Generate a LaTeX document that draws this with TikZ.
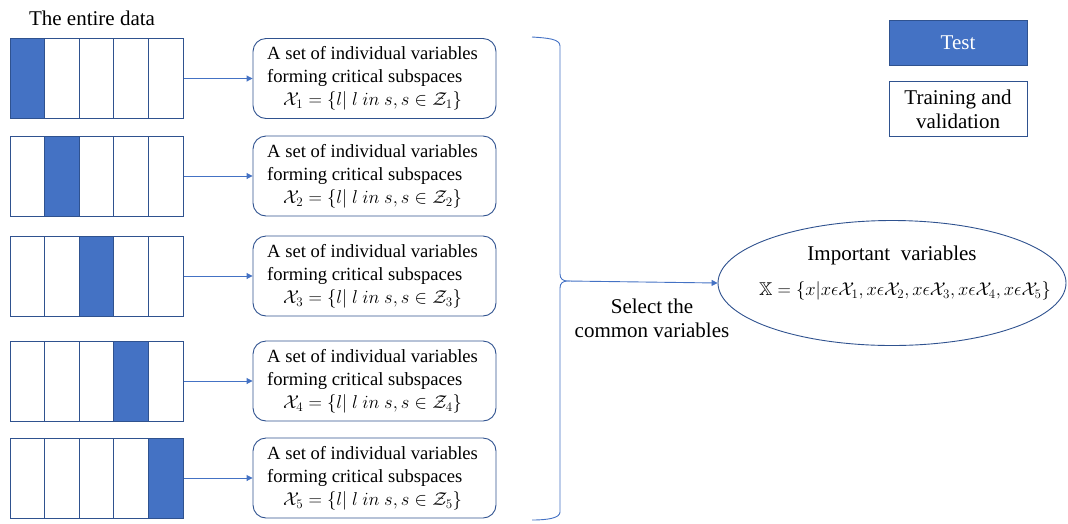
\RequirePackage{fix-cm}
\documentclass[tikz,border=0pt]{standalone}
\usepackage{amssymb}
\usepackage{fontspec}
\setmainfont{Liberation Serif}
\usetikzlibrary{shapes.geometric,arrows.meta}
\definecolor{bfill}{HTML}{4472C4}
\definecolor{bline}{HTML}{2F528F}
\definecolor{cline}{HTML}{4472C4}
\tikzset{
  cell/.style={draw=bline, line width=1pt, minimum width=34.6pt, minimum height=80pt, inner sep=0pt},
  filled/.style={cell, fill=bfill},
  setbox/.style={draw=bline, line width=0.9pt, rounded corners=13pt, minimum width=243pt, minimum height=80pt, inner sep=0pt},
  settext/.style={align=left, font=\fontsize{18.6}{23}\selectfont, inner sep=0pt},
  conn/.style={draw=cline, line width=0.9pt, -{Triangle[length=6pt,width=6pt]}},
  lab/.style={font=\fontsize{21}{24}\selectfont, align=center, inner sep=0pt},
}
\begin{document}
\begin{tikzpicture}[x=1pt,y=-1pt]
\useasboundingbox (0,0) rectangle (1068,523);
\node[lab, anchor=center] (title) at (92,18) {The entire data};
\foreach \r/\yy/\f in {1/78.5/1, 2/176/2, 3/276/3, 4/381/4, 5/478/5}{
  \foreach \c in {1,...,5}{
    \ifnum\c=\f
      \node[filled] (r\r c\c) at ({10+34.6*(\c-0.5)},\yy) {};
    \else
      \node[cell] (r\r c\c) at ({10+34.6*(\c-0.5)},\yy) {};
    \fi
  }
  \node[setbox] (box\r) at (374.5,\yy) {};
  \node[settext, anchor=west] (txt\r) at (267,\yy) {A set of individual variables\\forming critical subspaces\\\hspace*{16pt}$\mathcal{X}_{\r}=\{l|\ l\ in\ s, s\in \mathcal{Z}_{\r}\}$};
  \draw[conn] (r\r c5.east) -- (box\r.west);
}
% brace
\coordinate (btop) at (532,37);
\coordinate (tip) at (568,281);
\coordinate (bbot) at (532,520);
\draw[draw=cline, line width=0.9pt] (btop) .. controls (548,38) and (560,39) .. (560,46)
  -- (560,274) .. controls (560,279) and (563,281) .. (tip)
  .. controls (563,281) and (560,283) .. (560,288) -- (560,512)
  .. controls (560,518) and (548,520) .. (bbot);
\node[draw=bline, line width=0.9pt, ellipse, minimum width=348pt, minimum height=125pt, inner sep=0pt] (ell) at (892,283) {};
\draw[conn] (tip) -- (ell.west);
\node[lab] (imp) at (892,255) {Important\ \ variables};
\node[lab, font=\fontsize{18.5}{22}\selectfont] (form) at (905,291) {$\mathbb{X}=\{x|x\epsilon\mathcal{X}_1, x\epsilon\mathcal{X}_2, x\epsilon\mathcal{X}_3, x\epsilon\mathcal{X}_4, x\epsilon\mathcal{X}_5\}$};
\node[lab] (sel) at (652,318) {Select the\\common variables};
% legend
\node[draw=bline, line width=0.9pt, fill=bfill, minimum width=138pt, minimum height=45pt, inner sep=0pt, text=white, font=\fontsize{21}{24}\selectfont] (test) at (958,43) {Test};
\node[draw=bline, line width=0.9pt, minimum width=138pt, minimum height=55pt, inner sep=0pt, lab] (train) at (958,109) {Training and\\validation};
\end{tikzpicture}
\end{document}
